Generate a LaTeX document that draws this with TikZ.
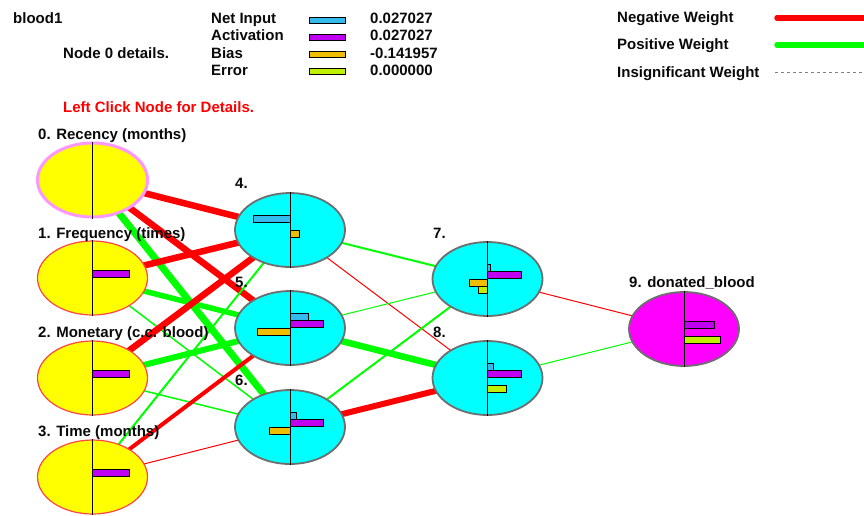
\documentclass[tikz,border=0pt]{standalone}
\usepackage{fontspec}
\setmainfont{Liberation Sans}
\usetikzlibrary{shapes.geometric,calc}
\pgfdeclarelayer{bg}
\pgfdeclarelayer{edges}
\pgfsetlayers{bg,edges,main}
\definecolor{netc}{RGB}{51,187,238}
\definecolor{actc}{RGB}{192,0,240}
\definecolor{biasc}{RGB}{240,190,0}
\definecolor{errc}{RGB}{192,240,0}
\definecolor{negc}{RGB}{255,0,0}
\definecolor{posc}{RGB}{0,255,0}
\definecolor{inbord}{RGB}{255,70,70}
\definecolor{selbord}{RGB}{255,150,255}
\definecolor{hbord}{RGB}{110,110,110}
\definecolor{txt}{RGB}{10,10,10}
\definecolor{infill}{RGB}{255,255,0}
\definecolor{hfill}{RGB}{0,255,255}
\definecolor{ofill}{RGB}{255,0,255}
\definecolor{redtxt}{RGB}{255,0,0}
\newcommand\barat[4]{\filldraw[bar,fill=#2] ($(#1)+(0,#3)$) rectangle ($(#1)+(#4,#3+7)$);}
\newcommand\netb[2]{\barat{#1}{netc}{-15}{#2}}
\newcommand\actb[2]{\barat{#1}{actc}{-8}{#2}}
\newcommand\biasb[2]{\barat{#1}{biasc}{0}{#2}}
\newcommand\errb[2]{\barat{#1}{errc}{7}{#2}}
\begin{document}
\begin{tikzpicture}[x=1pt,y=-1pt,
  base/.style={ellipse, minimum width=110pt, minimum height=74pt, inner sep=0pt},
  inode/.style={base, draw=inbord, line width=1.2pt, fill=infill},
  selnode/.style={base, draw=selbord, line width=3pt, fill=infill},
  hnode/.style={base, draw=hbord, line width=1.8pt, fill=hfill},
  onode/.style={base, draw=hbord, line width=1.8pt, fill=ofill},
  lbl/.style={anchor=base west, inner sep=0pt, text=txt, font=\fontsize{15}{18}\selectfont\bfseries},
  redlbl/.style={lbl, text=redtxt},
  bar/.style={draw=black, line width=0.9pt},
  negwt/.style={draw=negc},
  poswt/.style={draw=posc},
  midline/.style={draw=black, line width=0.8pt}]
\begin{pgfonlayer}{bg}
\fill[white] (0,0) rectangle (864,515);
\end{pgfonlayer}
\useasboundingbox (0,0) rectangle (864,515);

% header texts
\node[lbl] (title) at (13,23) {blood1};
\node[lbl] (det) at (63,58) {Node 0 details.};
\node[lbl] (kin) at (211,23) {Net Input};
\node[lbl] (kact) at (211,40) {Activation};
\node[lbl] (kbias) at (211,58) {Bias};
\node[lbl] (kerr) at (211,75) {Error};
\node[lbl] (vin) at (370,23) {0.027027};
\node[lbl] (vact) at (370,40) {0.027027};
\node[lbl] (vbias) at (370,58) {-0.141957};
\node[lbl] (verr) at (370,75) {0.000000};
\filldraw[bar,fill=netc] (309,17) rectangle (345,23);
\filldraw[bar,fill=actc] (309,34) rectangle (345,40);
\filldraw[bar,fill=biasc] (309,51) rectangle (345,57);
\filldraw[bar,fill=errc] (309,68) rectangle (345,74);
\node[redlbl] (click) at (63,112) {Left Click Node for Details.};

% weight legend
\node[lbl] (lneg) at (617,22) {Negative Weight};
\node[lbl] (lpos) at (617,49) {Positive Weight};
\node[lbl] (lins) at (617,77) {Insignificant Weight};
\coordinate (a1) at (777,18); \coordinate (b1) at (872,18);
\coordinate (a2) at (777,45); \coordinate (b2) at (872,45);
\coordinate (a3) at (775,72); \coordinate (b3) at (864,72);
\draw[negwt, line width=5.5pt, line cap=round] (a1) -- (b1);
\draw[poswt, line width=5.5pt, line cap=round] (a2) -- (b2);
\draw[gray, line width=0.6pt, dash pattern=on 3pt off 3pt] (a3) -- (b3);

% nodes
\node[selnode] (n0) at (92.5,180) {};
\node[inode] (n1) at (92.5,278) {};
\node[inode] (n2) at (92.5,378) {};
\node[inode] (n3) at (92.5,477) {};
\node[hnode] (n4) at (290,230) {};
\node[hnode] (n5) at (290,328) {};
\node[hnode] (n6) at (290,427) {};
\node[hnode] (n7) at (487.5,279) {};
\node[hnode] (n8) at (487.5,378) {};
\node[onode] (n9) at (684,329) {};

\foreach \n in {n0,n1,n2,n3,n4,n5,n6,n7,n8,n9}{
  \draw[midline] (\n.north) -- (\n.south);
}

% bars
\actb{n1}{37}
\actb{n2}{37}
\actb{n3}{37}
\netb{n4}{-37} \biasb{n4}{9}
\netb{n5}{18} \actb{n5}{33} \biasb{n5}{-33}
\netb{n6}{6} \actb{n6}{33} \biasb{n6}{-21}
\netb{n7}{3} \actb{n7}{34} \biasb{n7}{-18} \errb{n7}{-9}
\netb{n8}{6} \actb{n8}{34} \errb{n8}{19}
\actb{n9}{30} \errb{n9}{36}

% connectors
\begin{pgfonlayer}{edges}
\draw[negwt, line width=6.5pt] (n0.center) -- (n4.center);
\draw[negwt, line width=6.5pt] (n0.center) -- (n5.center);
\draw[poswt, line width=7pt] (n0.center) -- (n6.center);
\draw[negwt, line width=6.5pt] (n1.center) -- (n4.center);
\draw[poswt, line width=5.5pt] (n1.center) -- (n5.center);
\draw[poswt, line width=1.5pt] (n1.center) -- (n6.center);
\draw[negwt, line width=6.5pt] (n2.center) -- (n4.center);
\draw[poswt, line width=6pt] (n2.center) -- (n5.center);
\draw[poswt, line width=1.5pt] (n2.center) -- (n6.center);
\draw[poswt, line width=2pt] (n3.center) -- (n4.center);
\draw[negwt, line width=4pt] (n3.center) -- (n5.center);
\draw[negwt, line width=1pt] (n3.center) -- (n6.center);
\draw[poswt, line width=2pt] (n4.center) -- (n7.center);
\draw[negwt, line width=1pt] (n4.center) -- (n8.center);
\draw[poswt, line width=1pt] (n5.center) -- (n7.center);
\draw[poswt, line width=6.5pt] (n5.center) -- (n8.center);
\draw[poswt, line width=2pt] (n6.center) -- (n7.center);
\draw[negwt, line width=6pt] (n6.center) -- (n8.center);
\draw[negwt, line width=1pt] (n7.center) -- (n9.center);
\draw[poswt, line width=1pt] (n8.center) -- (n9.center);
\end{pgfonlayer}

% node labels
\node[lbl] (t0) at (38,139) {0. Recency (months)};
\node[lbl] (t1) at (38,238) {1. Frequency (times)};
\node[lbl] (t2) at (38,337) {2. Monetary (c.c. blood)};
\node[lbl] (t3) at (38,436) {3. Time (months)};
\node[lbl] (t4) at (235,188) {4.};
\node[lbl] (t5) at (235,287) {5.};
\node[lbl] (t6) at (235,385) {6.};
\node[lbl] (t7) at (433,238) {7.};
\node[lbl] (t8) at (433,337) {8.};
\node[lbl] (t9) at (629,287) {9. donated\_blood};
\end{tikzpicture}
\end{document}
